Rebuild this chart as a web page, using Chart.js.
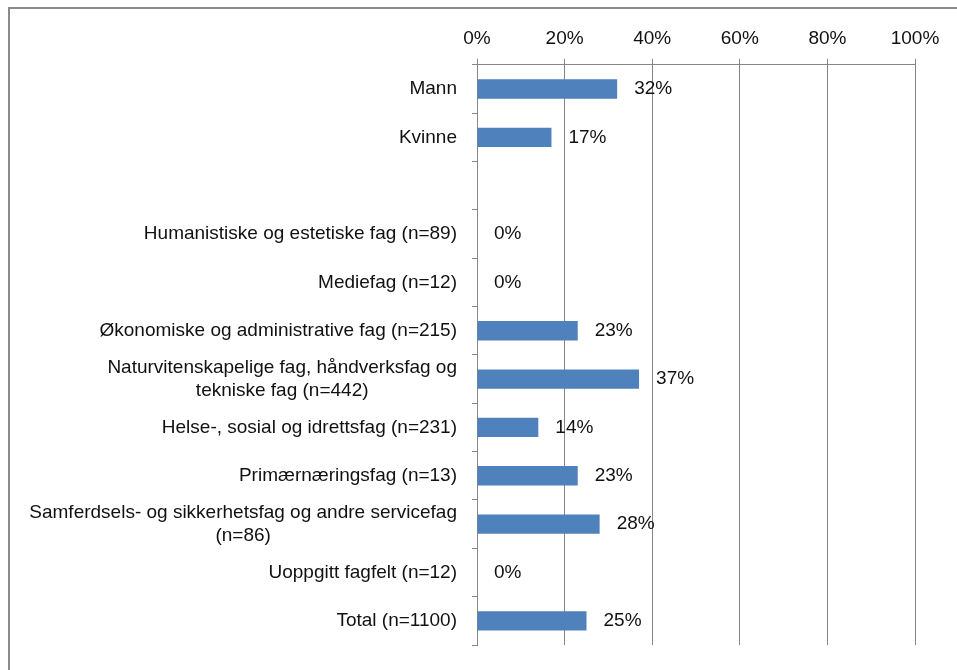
<!DOCTYPE html>
<html>
<head>
<meta charset="utf-8">
<script src="https://cdn.jsdelivr.net/npm/chart.js@4.4.1/dist/chart.umd.min.js"></script>
<style>
  html, body { margin: 0; padding: 0; background: #fff; overflow: hidden; }
  #wrap { position: absolute; left: 0; top: 0; width: 957px; height: 670px; }
  #frame { position: absolute; left: 8px; top: 7px; width: 960px; height: 680px;
           border-left: 2px solid #8a8a8a; border-top: 2px solid #8a8a8a; box-sizing: border-box; }
  canvas { position: absolute; left: 0; top: 0; }
</style>
</head>
<body>
<div id="wrap">
  <div id="frame"></div>
  <canvas id="c" width="957" height="670"></canvas>
</div>
<script>
const categories = [
  "Mann",
  "Kvinne",
  "",
  "Humanistiske og estetiske fag (n=89)",
  "Mediefag (n=12)",
  "Økonomiske og administrative fag (n=215)",
  ["Naturvitenskapelige fag, håndverksfag og", "tekniske fag (n=442)"],
  "Helse-, sosial og idrettsfag (n=231)",
  "Primærnæringsfag (n=13)",
  ["Samferdsels- og sikkerhetsfag og andre servicefag", "(n=86)"],
  "Uoppgitt fagfelt (n=12)",
  "Total (n=1100)"
];
const values = [32, 17, null, 0, 0, 23, 37, 14, 23, 28, 0, 25];
const xTicks = [0, 20, 40, 60, 80, 100];

const FONT = "Liberation Sans";
const FSIZE = 19;
const TEXT = "#111";

const yLabelPlugin = {
  id: "yLabels",
  afterDraw(chart) {
    const ctx = chart.ctx;
    const y = chart.scales.y;
    ctx.save();
    ctx.font = FSIZE + "px '" + FONT + "'";
    ctx.fillStyle = TEXT;
    ctx.textBaseline = "middle";
    ctx.textAlign = "center";
    const right = y.right - 20;
    const lh = 23;
    categories.forEach((lab, i) => {
      const lines = Array.isArray(lab) ? lab : [lab];
      if (!lines.join("")) return;
      const w = Math.max(...lines.map(l => ctx.measureText(l).width));
      const cx = right - w / 2;
      const cy = y.getPixelForTick(i);
      const y0 = cy - (lines.length - 1) * lh / 2;
      lines.forEach((l, k) => ctx.fillText(l, cx, y0 + k * lh));
    });
    ctx.restore();
  }
};

const valueLabelPlugin = {
  id: "valueLabels",
  afterDatasetsDraw(chart) {
    const ctx = chart.ctx;
    const meta = chart.getDatasetMeta(0);
    ctx.save();
    ctx.font = FSIZE + "px '" + FONT + "'";
    ctx.fillStyle = TEXT;
    ctx.textBaseline = "middle";
    ctx.textAlign = "left";
    meta.data.forEach((bar, i) => {
      const v = values[i];
      if (v === null || v === undefined) return;
      ctx.fillText(v + "%", bar.x + 17, bar.y);
    });
    ctx.restore();
  }
};

new Chart(document.getElementById("c"), {
  type: "bar",
  data: {
    labels: categories.map(c => Array.isArray(c) ? c.join(" ") : c),
    datasets: [{
      data: values,
      backgroundColor: "#4f81bd",
      borderWidth: 0,
      barPercentage: 0.4,
      categoryPercentage: 1.0
    }]
  },
  options: {
    indexAxis: "y",
    responsive: false,
    animation: false,
    events: [],
    layout: { padding: { left: 0, right: 42, top: 18, bottom: 25 } },
    plugins: { legend: { display: false }, tooltip: { enabled: false } },
    scales: {
      x: {
        position: "top",
        min: 0,
        max: 100,
        afterBuildTicks(scale) { scale.ticks = xTicks.map(v => ({ value: v })); },
        ticks: {
          callback: v => v + "%",
          color: TEXT,
          font: { family: FONT, size: FSIZE },
          padding: 9,
          maxRotation: 0
        },
        grid: { color: "#868686", lineWidth: 1, tickLength: 6, drawTicks: true },
        border: { color: "#868686", width: 1 }
      },
      y: {
        afterFit(scale) { scale.width = 477; },
        ticks: { display: false },
        grid: { drawOnChartArea: false, drawTicks: true, tickLength: 5, color: "#868686", offset: true },
        border: { color: "#868686", width: 1 }
      }
    }
  },
  plugins: [yLabelPlugin, valueLabelPlugin]
});
</script>
</body>
</html>
